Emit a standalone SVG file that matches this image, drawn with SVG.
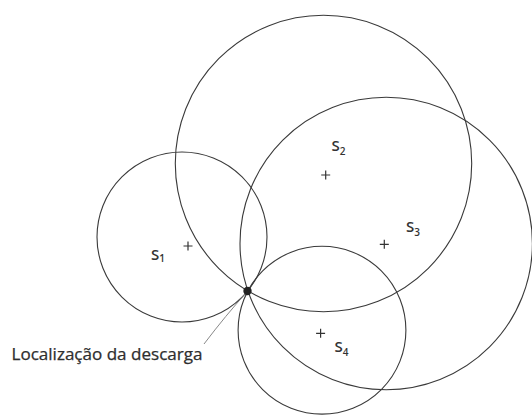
<svg xmlns="http://www.w3.org/2000/svg" width="532" height="415" viewBox="0 0 532 415">
<style>
.ring{fill:none;stroke:#3a3a3a;stroke-width:1.1}
.plus{stroke:#333;stroke-width:1.2;fill:none}
.lbl{font-family:"Open Sans","Noto Sans","Liberation Sans",sans-serif;font-size:15px;font-weight:600;fill:#333}
.sub{font-size:10px}
.cap{font-family:"Open Sans","Noto Sans","Liberation Sans",sans-serif;font-size:16px;fill:#2e2e2e;stroke:#2e2e2e;stroke-width:0.25}
.lead{fill:none;stroke:#888;stroke-width:1}
</style>
<rect width="532" height="415" fill="#fff"/>
<g id="sensor-s2">
<circle class="ring" cx="323.5" cy="163.5" r="148.2"/>
<path class="plus" d="M321.2 175h9M325.7 170.5v9"/>
<text class="lbl" x="331.5" y="150.5">S<tspan class="sub" dy="4.5">2</tspan></text>
</g>
<g id="sensor-s3">
<circle class="ring" cx="386.2" cy="243.5" r="146.2"/>
<path class="plus" d="M379.8 244.3h9M384.3 239.8v9"/>
<text class="lbl" x="406" y="231.7">S<tspan class="sub" dy="4">3</tspan></text>
</g>
<g id="sensor-s4">
<circle class="ring" cx="322" cy="330.2" r="83.9"/>
<path class="plus" d="M316.1 333.3h9M320.6 328.8v9"/>
<text class="lbl" x="334.5" y="351.7">S<tspan class="sub" dy="4">4</tspan></text>
</g>
<g id="sensor-s1">
<circle class="ring" cx="182" cy="237" r="85"/>
<path class="plus" d="M183.5 246h9M188 241.5v9"/>
<text class="lbl" x="151" y="259.5">S<tspan class="sub" dy="2.5">1</tspan></text>
</g>
<g id="connectors">
<path class="lead" d="M246.5 292.5Q226 315 204 344"/>
</g>
<g id="discharge">
<circle cx="247.5" cy="291" r="4.2" fill="#222"/>
<text class="cap" x="11.5" y="360" textLength="191" lengthAdjust="spacingAndGlyphs">Localização da descarga</text>
</g>
</svg>
